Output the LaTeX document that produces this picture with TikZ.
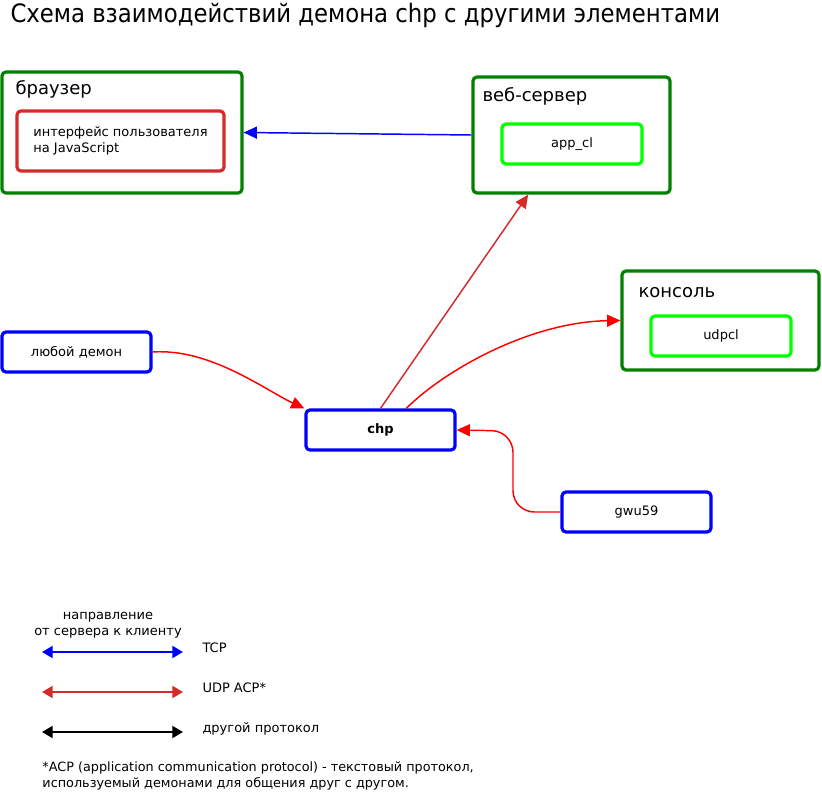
\documentclass[tikz,border=0pt]{standalone}
\usepackage{fontspec}
\setmainfont{DejaVu Sans}
\newfontfamily\condfont{DejaVu Sans Condensed}
\usetikzlibrary{arrows.meta}

\definecolor{hostgreen}{RGB}{0,128,0}
\definecolor{applime}{RGB}{0,255,0}
\definecolor{tcpblue}{RGB}{0,0,255}
\definecolor{acpred}{RGB}{212,42,42}
\definecolor{linkred}{RGB}{255,0,0}

\tikzset{every picture/.style={line width=0.75pt}}
\tikzset{
	host/.style={draw=hostgreen, line width=2.4pt, rounded corners=3pt, minimum width=147.75pt},
	app/.style={draw=applime, line width=2.4pt, rounded corners=3pt, minimum width=105pt, minimum height=30pt, font=\fontsize{9.75}{12}\selectfont},
	daemon/.style={draw=tcpblue, line width=2.4pt, rounded corners=3pt, minimum width=111.75pt, minimum height=30pt, font=\fontsize{9.75}{12}\selectfont},
	hostlabel/.style={anchor=base west, inner sep=0pt, font=\fontsize{13.5}{16}\selectfont},
	small/.style={inner sep=0pt, font=\fontsize{9.75}{12}\selectfont},
	tcp/.style={draw=tcpblue, line width=1.1pt, -{Triangle[length=10pt,width=9pt]}},
	acp/.style={draw=acpred, line width=1.1pt, -{Triangle[length=10pt,width=9pt]}},
	acpcurve/.style={draw=linkred, line width=1.1pt, -{Triangle[length=10pt,width=9pt]}},
	legend/.style={line width=1.5pt, {Triangle[length=8pt,width=9pt]}-{Triangle[length=8pt,width=9pt]}}
}

\begin{document}
\begin{tikzpicture}[x=0.75pt,y=0.75pt,yscale=-1,xscale=1]
	\useasboundingbox (0,0) rectangle (822,792);

	% Title
	\node [anchor=base west, inner sep=0pt, font=\condfont\fontsize{19}{22}\selectfont] (title) at (10,23) {Схема взаимодействий демона chp с другими элементами};

	%Shape: Browser
	\node [host, minimum width=180pt, minimum height=90.75pt] (browser) at (122,132.5) {};
	\node [hostlabel] (browserlbl) at (15,94) {браузер};
	\node [draw=acpred, line width=2.4pt, rounded corners=3pt, minimum width=155.25pt, minimum height=45pt, align=left, font=\fontsize{9.75}{12}\selectfont] (js) at (120.5,141) {интерфейс пользователя\\на JavaScript};

	%Shape: Web server
	\node [host, minimum height=87pt] (web) at (571.5,135) {};
	\node [hostlabel] (weblbl) at (482,102) {веб-сервер};
	\node [app] (appcl) at (572,144) {app\_cl};

	%Shape: Console
	\node [host, minimum height=74.25pt] (console) at (720.5,320.5) {};
	\node [hostlabel] (consolelbl) at (638,297) {консоль};
	\node [app] (udpcl) at (721,336) {udpcl};

	%Shape: Daemons
	\node [daemon] (any) at (76.5,352) {любой демон};
	\node [daemon, font=\fontsize{9.75}{12}\selectfont\bfseries] (chp) at (380.5,430) {chp};
	\node [daemon] (gwu) at (636.5,512) {gwu59};
	\coordinate (gwubend) at (513,431);

	%Links
	\draw [tcp] (web.west) -- (browser.east);
	\draw [acp] (chp.north) -- (web.234);
	\draw [acpcurve] (chp.40) .. controls (445,370) and (530,322) .. (console.west);
	\draw [acpcurve] (any.east) .. controls (210,348) and (265,390) .. (chp.north west);
	\draw [acpcurve, rounded corners=16pt] (gwu.west) -| (gwubend) -- (chp.east);

	% Legend
	\node [small, align=center] (legendhead) at (108,625) {направление\\от сервера к клиенту};
	\coordinate (tcpa) at (42,652);
	\coordinate (tcpb) at (183,652);
	\coordinate (acpa) at (42,692);
	\coordinate (acpb) at (183,692);
	\coordinate (othera) at (42,732);
	\coordinate (otherb) at (183,732);
	\draw [legend, tcpblue] (tcpa) -- (tcpb);
	\draw [legend, acpred] (acpa) -- (acpb);
	\draw [legend, black] (othera) -- (otherb);
	\node [small, anchor=base west] (tcplbl) at (202,652) {TCP};
	\node [small, anchor=base west] (acplbl) at (202,692) {UDP ACP*};
	\node [small, anchor=base west] (otherlbl) at (202,732) {другой протокол};

	% Footnote
	\node [small, anchor=west, align=left, font=\fontsize{9.6}{11.5}\selectfont] (note) at (42,776) {*ACP (application communication protocol) - текстовый протокол,\\используемый демонами для общения друг с другом.};

\end{tikzpicture}
\end{document}
